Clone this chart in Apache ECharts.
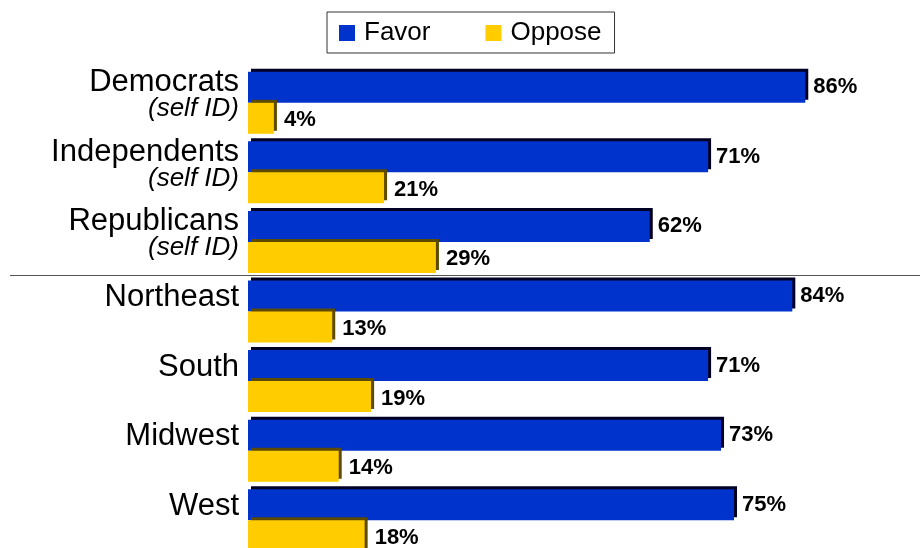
<!DOCTYPE html>
<html>
<head>
<meta charset="utf-8">
<script src="https://cdn.jsdelivr.net/npm/echarts@6/dist/echarts.min.js"></script>
<style>html,body{margin:0;padding:0;background:#fff;overflow:hidden}#c{width:920px;height:556px}</style>
</head>
<body>
<div id="c"></div>
<script>
var categories = ['Democrats', 'Independents', 'Republicans', 'Northeast', 'South', 'Midwest', 'West'];
var subLabels = ['(self ID)', '(self ID)', '(self ID)', '', '', '', ''];
var favor = [86, 71, 62, 84, 71, 73, 75];
var oppose = [4, 21, 29, 13, 19, 14, 18];
var seriesNames = ['Favor', 'Oppose'];

var chart = echarts.init(document.getElementById('c'), null, {renderer: 'canvas'});
var FONT = '"Liberation Sans", Arial, Helvetica, sans-serif';

var option = {
  animation: false,
  textStyle: {fontFamily: FONT},
  legend: {
    data: seriesNames,
    left: 327, top: 12,
    padding: [8, 13, 7, 12],
    itemGap: 55,
    itemWidth: 16, itemHeight: 16,
    icon: 'rect',
    itemStyle: {borderWidth: 0, shadowBlur: 0, shadowOffsetX: 0, shadowOffsetY: 0, shadowColor: 'transparent'},
    borderColor: '#333', borderWidth: 1,
    textStyle: {fontSize: 26, color: '#000', fontFamily: FONT, padding: [0, 0, 0, 4]}
  },
  grid: {left: 248, right: 24, top: 68, bottom: 1, containLabel: false},
  xAxis: {
    type: 'value', min: 0, max: 100, show: false
  },
  yAxis: {
    type: 'category', inverse: true, data: categories,
    axisLine: {show: false}, axisTick: {show: false}, splitLine: {show: false},
    axisLabel: {
      margin: 9,
      formatter: function (v, i) {
        if (subLabels[i]) {
          return '{a|' + v + '}\n{b|' + subLabels[i] + '}\n{d| }';
        }
        return '{r|' + v + '}\n{e| }';
      },
      rich: {
        a: {fontSize: 31, lineHeight: 26, color: '#000', fontFamily: FONT, align: 'right'},
        b: {fontSize: 26, lineHeight: 26, color: '#000', fontStyle: 'italic', fontFamily: FONT, align: 'right'},
        d: {fontSize: 10, lineHeight: 14},
        r: {fontSize: 31, lineHeight: 30, color: '#000', fontFamily: FONT, align: 'right'},
        e: {fontSize: 10, lineHeight: 28}
      }
    }
  },
  series: [
    {
      name: 'Favor', type: 'bar', data: favor, barWidth: 31, barGap: '0%',
      itemStyle: {color: '#0033cc', borderWidth: 0,
        shadowColor: '#000026', shadowOffsetX: 3, shadowOffsetY: -3, shadowBlur: 0},
      label: {show: true, position: 'right', distance: 8, formatter: '{c}%',
        fontSize: 22, fontWeight: 'bold', color: '#000', fontFamily: FONT}
    },
    {
      name: 'Oppose', type: 'bar', data: oppose, barWidth: 31, barGap: '0%',
      itemStyle: {color: '#ffcc00', borderWidth: 0,
        shadowColor: '#5c4a00', shadowOffsetX: 3, shadowOffsetY: -3, shadowBlur: 0},
      label: {show: true, position: 'right', distance: 10, offset: [0, 2], formatter: '{c}%',
        fontSize: 22, fontWeight: 'bold', color: '#000', fontFamily: FONT}
    }
  ]
};
chart.setOption(option);

// separator between party rows and region rows, positioned from the axis scale
var y1 = chart.convertToPixel({yAxisIndex: 0}, categories[2]);
var y2 = chart.convertToPixel({yAxisIndex: 0}, categories[3]);
var ySep = Math.round((y1 + y2) / 2) - 1.5;
chart.setOption({
  graphic: [{
    type: 'line', silent: true,
    shape: {x1: 10, y1: ySep, x2: 920, y2: ySep},
    style: {stroke: '#555', lineWidth: 1}
  }]
});
</script>
</body>
</html>
